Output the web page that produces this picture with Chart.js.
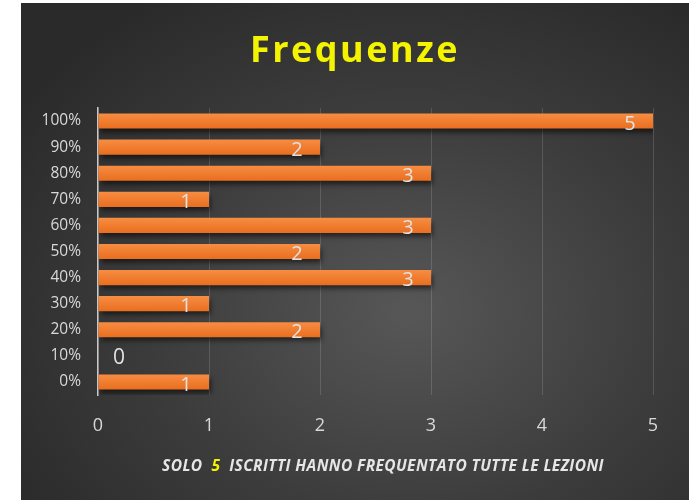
<!DOCTYPE html>
<html>
<head>
<meta charset="utf-8">
<script src="https://cdn.jsdelivr.net/npm/chart.js@4/dist/chart.umd.min.js"></script>
<style>
  html, body { margin: 0; padding: 0; background: #fff; }
  #box {
    position: absolute; left: 21px; top: 3px; width: 668px; height: 497px;
    background: radial-gradient(ellipse 70% 75% at 58% 62%, #575757 0%, #3c3c3c 55%, #2a2a2a 100%);
  }
  canvas { display: block; }
</style>
</head>
<body>
<div id="box"><canvas id="myChart" width="668" height="497"></canvas></div>
<script>
let labels = ['100%', '90%', '80%', '70%', '60%', '50%', '40%', '30%', '20%', '10%', '0%'];
let counts = [5, 2, 3, 1, 3, 2, 3, 1, 2, 0, 1];
let xTicks = [0, 1, 2, 3, 4, 5];
let title = 'Frequenze';
let footParts = ['SOLO  ', '5', '  ISCRITTI HANNO FREQUENTATO TUTTE LE LEZIONI'];

function barFill(context) {
    let chart = context.chart;
    let y = chart.scales.y;
    if (!y || context.dataIndex === undefined) return '#f07a2c';
    let mid = y.getPixelForValue(context.dataIndex);
    if (!isFinite(mid)) return '#f07a2c';
    let g = chart.ctx.createLinearGradient(0, mid - 8, 0, mid + 8);
    g.addColorStop(0, '#f78e43');
    g.addColorStop(1, '#e96d1e');
    return g;
}

let decor = {
    id: 'decor',
    beforeDatasetsDraw(chart) {
        let c = chart.ctx;
        c.save();
        c.shadowColor = 'rgba(0,0,0,0.55)';
        c.shadowBlur = 5;
        c.shadowOffsetX = 2;
        c.shadowOffsetY = 4;
    },
    afterDatasetsDraw(chart) {
        let c = chart.ctx;
        c.restore();
        let meta = chart.getDatasetMeta(0);
        c.save();
        c.fillStyle = '#e2e2e2';
        c.textAlign = 'center';
        c.textBaseline = 'middle';
        meta.data.forEach((bar, i) => {
            let v = counts[i];
            if (v === 0) {
                c.font = '21px "Open Sans"';
                c.fillText('0', bar.base + 21, bar.y + 2);
            } else {
                c.font = '20px "Open Sans"';
                c.fillText(String(v), bar.x - 23, bar.y + 3);
            }
        });
        c.restore();
    },
    afterDraw(chart) {
        let c = chart.ctx;
        c.save();
        c.textBaseline = 'middle';
        c.textAlign = 'center';
        c.fillStyle = '#f4f400';
        c.font = 'bold 36px "Open Sans"';
        c.letterSpacing = '2.5px';
        c.fillText(title, 334, 49);
        c.font = 'italic bold 15.5px "Open Sans"';
        c.letterSpacing = '0.4px';
        c.textAlign = 'left';
        let widths = footParts.map(p => c.measureText(p).width);
        let total = widths.reduce((a, b) => a + b, 0);
        let x = 362 - total / 2;
        footParts.forEach((p, i) => {
            c.fillStyle = i === 1 ? '#f4f400' : '#e6e6e6';
            c.fillText(p, x, 464);
            x += widths[i];
        });
        c.restore();
    }
};

let ctx = document.getElementById('myChart');
let barChart = new Chart(ctx, {
    type: 'bar',
    plugins: [decor],
    data: {
        labels: labels,
        datasets: [
            {
                label: 'Frequenze',
                data: counts,
                backgroundColor: barFill,
                borderWidth: 0,
                barPercentage: 0.58,
                categoryPercentage: 1
            }
        ]
    },
    options: {
        indexAxis: 'y',
        responsive: false,
        animation: false,
        layout: { padding: { top: 105, right: 36, bottom: 55, left: 0 } },
        plugins: {
            legend: { display: false },
            title: { display: false },
            tooltip: { enabled: false }
        },
        scales: {
            x: {
                min: 0,
                max: 5,
                afterBuildTicks(scale) {
                    scale.ticks = xTicks.map(v => ({ value: v }));
                },
                afterFit(scale) { scale.height = 50; },
                grid: { color: 'rgba(255,255,255,0.14)', lineWidth: 1, drawTicks: false },
                border: { display: false },
                ticks: { color: '#d9d9d9', font: { family: 'Open Sans', size: 18 }, padding: 20 }
            },
            y: {
                afterFit(scale) { scale.width = 77; },
                grid: { display: false, drawTicks: false },
                border: { display: true, color: '#c8c8c8', width: 1.5, dash: [1, 1] },
                ticks: { color: '#d9d9d9', font: { family: 'Open Sans', size: 15.5 }, padding: 17 }
            }
        }
    }
});
</script>
</body>
</html>
